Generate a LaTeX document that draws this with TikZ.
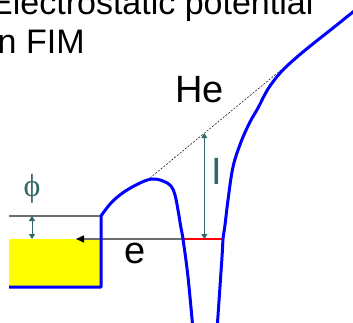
\documentclass[tikz,border=0pt]{standalone}
\usepackage{fontspec}
\usepackage{xcolor}
\usepackage{tikz}
\usetikzlibrary{arrows.meta, positioning, calc}
\setmainfont{Liberation Sans}
\newfontfamily\phifont{Liberation Serif}
\definecolor{wellblue}{RGB}{0,0,255}
\definecolor{levelgray}{RGB}{110,110,110}
\definecolor{labelteal}{RGB}{51,102,102}
\definecolor{metalyellow}{RGB}{255,255,0}

\begin{document}
\begin{tikzpicture}[
    x=1pt, y=-1pt,
    every node/.style={inner sep=0pt},
    title/.style={font=\fontsize{34}{39}\selectfont, anchor=base west},
    symb/.style={font=\fontsize{38}{38}\selectfont, anchor=base},
    tealsymb/.style={symb, text=labelteal},
    potential/.style={draw=wellblue, line width=3pt, line join=round},
    level/.style={draw=levelgray, line width=1.5pt},
    gap/.style={{Triangle[length=5pt,width=6pt]}-{Triangle[length=5pt,width=6pt]},
                draw=labelteal, line width=1pt},
    electron/.style={-{Triangle[length=8pt,width=7pt,color=black]}, draw=levelgray,
                     line width=1.5pt},
    tangent/.style={draw=black, line width=0.5pt, dash pattern=on 2pt off 1.5pt}
]
\useasboundingbox (0,0) rectangle (353,323);
\clip (0,0) rectangle (353,323);

% Title
\node[title] (title) at (-10,15) {Electrostatic potential};
\node[title] (titleb) at (-10,54) {in FIM};

% Metal: Fermi sea and vacuum level
\fill[metalyellow] (9,239) rectangle (101,287);
\coordinate (vacl) at (9,216);
\coordinate (vacr) at (101,216);
\draw[level] (vacl) -- (vacr);

% Work function
\coordinate (phitop) at (32,216);
\coordinate (phibot) at (32,239);
\draw[gap] (phitop) -- (phibot);
\node[font=\fontsize{32}{32}\phifont, text=labelteal] (phi) at (32,188.5) {ϕ};

% Electron tunnelling into the tip
\coordinate (fermi) at (76,239);
\coordinate (ionl) at (183,239);
\coordinate (ionr) at (223,239);
\draw[electron] (ionl) -- (fermi);
\draw[red, line width=2pt] (ionl) -- (ionr);
\node[symb] (elec) at (135.5,263) {e};

% Tangent and ionisation energy
\coordinate (peak) at (150,178);
\coordinate (tail) at (281,70);
\draw[tangent] (peak) -- (tail);
\coordinate (itop) at ($(peak)!0.415!(tail)$);
\coordinate (ibot) at (itop |- ionl);
\draw[gap] (itop) -- (ibot);
\node[tealsymb] (ion) at (217,185) {I};
\node[symb, anchor=base west] (he) at (175,103) {He};

% Potential curve
\draw[potential] (9,287) -- (101,287) -- (101,216) -- plot[smooth, tension=0.6]
    coordinates {(101,216) (111,203) (124,192) (140,183) (152,179) (163,181)
                 (171,186) (175,195) (178,210) (181,228) (183,239) (188,277) (193,330)};
\draw[potential] plot[smooth, tension=0.6]
    coordinates {(217,330) (222,257) (223,239) (225,225) (228,200) (233,167)
                 (241,142) (250,122) (258,108) (268,89) (281,72) (297,57)
                 (314,43) (333,28) (353,12) (365,3)};

\end{tikzpicture}
\end{document}
